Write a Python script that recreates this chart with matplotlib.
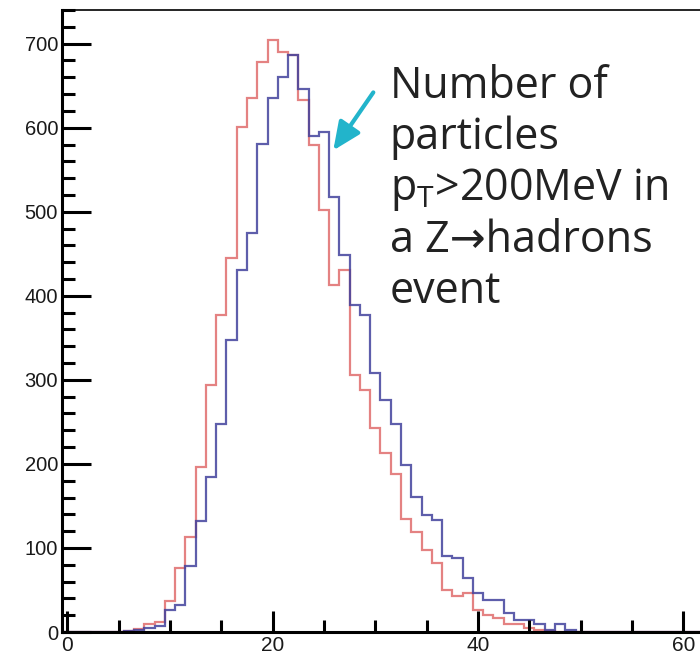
import numpy as np
import matplotlib.pyplot as plt
from matplotlib.ticker import MultipleLocator

plt.rcParams['mathtext.fontset'] = 'custom'
plt.rcParams['mathtext.rm'] = 'Open Sans'
plt.rcParams['mathtext.it'] = 'Open Sans'

# number of charged particles per event, unit bins centred on integers
N_BINS = 63
red_counts = [0, 0, 0, 0, 0, 0, 1, 4, 9, 12,
              37, 76, 113, 196, 294, 377, 445, 601, 635, 678,
              704, 690, 687, 633, 579, 502, 413, 431, 306, 288,
              243, 213, 188, 135, 119, 97, 82, 50, 43, 46,
              26, 20, 17, 10, 9, 5, 2, 1]
blue_counts = [0, 0, 0, 0, 0, 0, 1, 2, 5, 7,
               26, 32, 78, 132, 184, 247, 348, 431, 475, 581,
               635, 660, 687, 646, 590, 595, 518, 448, 389, 377,
               308, 276, 248, 199, 161, 139, 133, 90, 88, 64,
               46, 38, 38, 23, 14, 14, 9, 2, 10, 2]

x_ticks = [0, 20, 40, 60]
y_ticks = [0, 100, 200, 300, 400, 500, 600, 700]
label = "Number of\nparticles\np$_\\mathrm{T}$>200MeV in\na Z\u2192hadrons\nevent"

edges = np.arange(N_BINS + 1) - 0.5
red = np.zeros(N_BINS)
red[:len(red_counts)] = red_counts
blue = np.zeros(N_BINS)
blue[:len(blue_counts)] = blue_counts

fig = plt.figure(figsize=(7, 6.6), dpi=100)
ax = fig.add_axes([0.0889, 0.0424, 0.924, 0.9424])

ax.stairs(red, edges, color='#e27474', lw=1.6, alpha=0.9)
ax.stairs(blue, edges, color='#42429c', lw=1.6, alpha=0.85)

ax.set_xlim(-0.5, 62.5)
ax.set_ylim(0, 740)

ax.set_xticks(x_ticks)
ax.xaxis.set_minor_locator(MultipleLocator(5))
ax.set_yticks(y_ticks)
ax.yaxis.set_minor_locator(MultipleLocator(20))

ax.tick_params(axis='x', which='major', direction='in', length=15, width=2.2,
               pad=3, labelsize=15)
ax.tick_params(axis='x', which='minor', direction='in', length=8.5, width=2.2)
ax.tick_params(axis='y', which='major', direction='in', length=21, width=2.2,
               pad=3, labelsize=14.5)
ax.tick_params(axis='y', which='minor', direction='in', length=9.5, width=2.2)
for lab in ax.get_xticklabels() + ax.get_yticklabels():
    lab.set_family('Liberation Sans')
    lab.set_color('#1a1a1a')

for side in ['left', 'bottom']:
    ax.spines[side].set_linewidth(2.2)
ax.spines['top'].set_linewidth(1.2)
ax.spines['right'].set_visible(False)

ax.text(31.4, 675, label, fontsize=31, family=['Open Sans', 'DejaVu Sans'],
        color='#222222', ha='left', va='top', linespacing=1.18)

ax.annotate('', xy=(25.9, 573), xytext=(29.8, 642),
            arrowprops=dict(arrowstyle='-|>,head_length=0.85,head_width=0.38',
                            color='#22b4cb', lw=3, mutation_scale=20,
                            shrinkA=0, shrinkB=0))

plt.savefig('out.png', dpi=100)
